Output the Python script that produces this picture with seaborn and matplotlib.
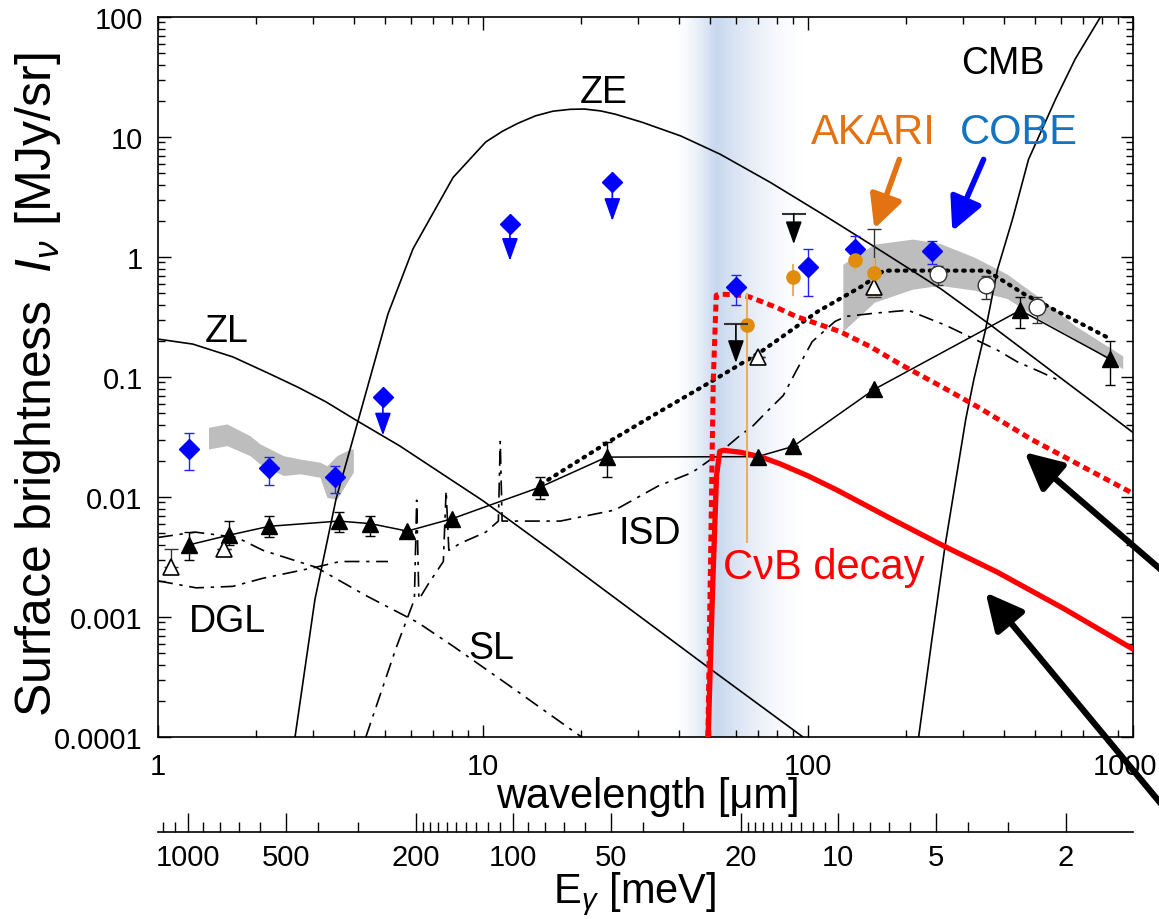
import numpy as np
import matplotlib
matplotlib.use('Agg')
import matplotlib.pyplot as plt
import matplotlib.transforms as mtransforms
import seaborn as sns
from matplotlib.ticker import FixedLocator, FuncFormatter, NullFormatter

# ---- data (wavelength in um, brightness in MJy/sr) ----
zl_wl = [1.0, 1.28, 1.7, 2.21, 2.7, 3.29, 4.06, 5.55, 10, 16.4, 50, 96.5]
zl_I = [0.207, 0.188, 0.147, 0.106, 0.082, 0.062, 0.0438, 0.0266, 0.0093, 0.0035, 0.00037, 0.0001]

ze_wl = [2.64, 3.04, 3.53, 3.90, 5.10, 6.09, 8.09, 10.2, 11.5, 12.8, 14.5, 16.4, 18.5, 20.5,
         23, 25.5, 30.8, 40.6, 53.6, 76.4, 113, 170, 257, 368, 588, 1014]
ze_I = [1e-4, 0.0014, 0.0096, 0.025, 0.335, 1.17, 4.6, 9.1, 11.2, 13.0, 15.0, 16.4, 17.0, 17.1,
        16.5, 15.5, 13.3, 10.2, 7.2, 4.2, 2.2, 1.1, 0.54, 0.266, 0.102, 0.0335]

cmb_wl = [219, 240, 264, 306, 324, 352, 383, 426, 477, 578, 664, 794]
cmb_I = [1e-4, 6.2e-4, 0.0039, 0.045, 0.096, 0.25, 0.79, 2.07, 6.5, 20.7, 44.7, 100]

dgl_wl = [1.0, 1.31, 1.7, 2.1, 3.06, 3.63, 5.1]
dgl_I = [0.002, 0.00175, 0.0018, 0.0021, 0.0026, 0.0029, 0.0029]

sl_wl = [1.0, 1.3, 1.75, 2.1, 3.06, 4.36, 6.3, 8.1, 12, 20.1]
sl_I = [0.0046, 0.0051, 0.0046, 0.0036, 0.0026, 0.00151, 0.0009, 0.00057, 0.00027, 0.0001]

isd_wl = [4.36, 5.4, 6.15, 6.25, 6.35, 6.8, 7.55, 7.7, 7.85, 8.5, 10.2, 11.15, 11.3, 11.45,
          14, 17.3, 25.5, 34.5, 44, 52.3, 61.3, 67.6, 75, 83.9, 91.6, 103, 121, 131, 160,
          203, 265, 385, 440, 520, 605]
isd_I = [1e-4, 5.5e-4, 0.0014, 0.0094, 0.0014, 0.0019, 0.0029, 0.0113, 0.0036, 0.0041, 0.0051,
         0.0063, 0.029, 0.0063, 0.0063, 0.0063, 0.0078, 0.0123, 0.016, 0.0222, 0.032, 0.039,
         0.052, 0.07, 0.11, 0.197, 0.29, 0.32, 0.34, 0.36, 0.27, 0.166, 0.134, 0.11, 0.091]

cnb_wl = [49.3, 50.9, 52.3, 53.5, 55, 62, 72, 82, 100, 123, 180, 262, 383, 614, 1000]
cnb_I = [1e-4, 0.0018, 0.015, 0.024, 0.0245, 0.0236, 0.0215, 0.0189, 0.0150, 0.0114,
         0.0066, 0.0039, 0.00236, 0.00117, 0.00054]

cnb_hi_wl = [49.2, 51.1, 52.2, 53.4, 60, 66, 71.2, 80, 91.8, 108, 125, 155, 192, 260, 338,
             485, 692, 1000]
cnb_hi_I = [1e-4, 0.091, 0.48, 0.49, 0.485, 0.465, 0.43, 0.38, 0.32, 0.275, 0.24, 0.18, 0.128,
            0.082, 0.055, 0.0304, 0.0182, 0.0107]

tri_wl = [1.25, 1.65, 2.2, 3.6, 4.5, 5.85, 8.05, 15, 24, 70, 90, 160, 450, 850]
tri_I = [0.0040, 0.0048, 0.0057, 0.0063, 0.0060, 0.0052, 0.0066, 0.0121, 0.0215,
         0.0217, 0.0264, 0.079, 0.36, 0.141]
tri_lo = [0.0030, 0.0040, 0.0046, 0.0051, 0.0047, 0.0052, 0.0066, 0.0097, 0.0146,
          0.0217, 0.0264, 0.079, 0.256, 0.085]
tri_hi = [0.0051, 0.0063, 0.0070, 0.0075, 0.0070, 0.0052, 0.0066, 0.0146, 0.0287,
          0.0217, 0.0264, 0.079, 0.46, 0.20]

otri_wl = [1.10, 1.6, 70, 160]
otri_I = [0.0026, 0.0037, 0.147, 0.56]
otri_lo = [0.0026, 0.0037, 0.147, 0.46]
otri_hi = [0.0037, 0.0037, 0.147, 1.7]

dirbe_wl = [1.25, 2.2, 3.5, 60, 100, 140, 240]
dirbe_I = [0.0251, 0.0173, 0.0146, 0.56, 0.83, 1.17, 1.12]
dirbe_lo = [0.0168, 0.0126, 0.0107, 0.40, 0.47, 0.95, 0.87]
dirbe_hi = [0.034, 0.0215, 0.018, 0.71, 1.17, 1.49, 1.36]

dirbe_ul_wl = [4.92, 12.1, 25.0]
dirbe_ul_I = [0.068, 1.88, 4.2]
dirbe_ul_tip = [0.0326, 0.93, 2.0]

akari_wl = [65, 90, 140, 160]
akari_I = [0.27, 0.68, 0.94, 0.74]
akari_lo = [0.0041, 0.47, 0.75, 0.46]
akari_hi = [0.50, 0.87, 1.17, 0.98]

ocirc_wl = [252, 352, 505]
ocirc_I = [0.72, 0.58, 0.38]
ocirc_lo = [0.58, 0.45, 0.28]
ocirc_hi = [0.84, 0.70, 0.46]

ul_wl = [60, 90.4]
ul_I = [0.275, 2.29]
ul_tip = [0.131, 1.28]

dot_wl = [15.1, 24.2, 32.8, 50, 71.1, 106.9, 148, 171, 355, 463, 854]
dot_I = [0.0128, 0.0285, 0.0465, 0.0905, 0.16, 0.35, 0.58, 0.77, 0.77, 0.49, 0.207]

band1_wl = [1.43, 1.63, 1.92, 2.06, 2.43, 2.74, 3.15, 3.31, 3.55, 3.9, 3.99]
band1_hi = [0.0381, 0.0406, 0.0324, 0.0277, 0.0221, 0.0207, 0.0195, 0.0182, 0.0221, 0.0251, 0.0251]
band1_lo = [0.0251, 0.0268, 0.0221, 0.0188, 0.0151, 0.0156, 0.0146, 0.0099, 0.0096, 0.0146, 0.0160]

band2_wl = [128, 160, 210, 254, 324, 410, 520, 660, 930]
band2_hi = [0.87, 1.28, 1.41, 1.3, 1.0, 0.72, 0.45, 0.27, 0.15]
band2_lo = [0.24, 0.42, 0.54, 0.58, 0.53, 0.45, 0.30, 0.21, 0.117]

e_major = [1000, 500, 200, 100, 50, 20, 10, 5, 2]
e_minor = [1200, 1100, 900, 800, 700, 600, 400, 300,
           190, 180, 170, 160, 150, 140, 130, 120, 110, 90, 80, 70, 60, 40, 30,
           19, 18, 17, 16, 15, 14, 13, 12, 11, 9, 8, 7, 6, 4, 3]

# ---- style ----
sns.set_style('ticks')
plt.rcParams['font.family'] = ['Liberation Sans', 'DejaVu Sans']
plt.rcParams['mathtext.fontset'] = 'custom'
plt.rcParams['mathtext.rm'] = 'Liberation Sans'
plt.rcParams['mathtext.it'] = 'Liberation Sans:italic'
plt.rcParams['mathtext.bf'] = 'Liberation Sans:bold'
for key in ['text.color', 'axes.labelcolor', 'xtick.color', 'ytick.color', 'axes.edgecolor']:
    plt.rcParams[key] = 'black'

fig = plt.figure(figsize=(11.59, 9.2), dpi=100)
ax = fig.add_axes([158 / 1159, 1 - 738 / 920, 975 / 1159, 720 / 920])
ax.set_xscale('log')
ax.set_yscale('log')
ax.set_xlim(1, 1000)
ax.set_ylim(1e-4, 100)

# blue shaded band around 50 um
edges = np.geomspace(37, 100, 120)
lpk = np.log10(52)
for a, b in zip(edges[:-1], edges[1:]):
    lm = np.log10(np.sqrt(a * b))
    if lm < lpk:
        w = ((lm - np.log10(37)) / (lpk - np.log10(37))) ** 2
    else:
        w = max(0.0, 1 - (lm - lpk) / (np.log10(100) - lpk)) ** 1.6
    col = (1 - 0.22 * w, 1 - 0.16 * w, 1 - 0.07 * w)
    ax.axvspan(a, b, color=col, lw=0, zorder=0)

ax.fill_between(band1_wl, band1_lo, band1_hi, color='#bdbdbd', lw=0, zorder=1)
ax.fill_between(band2_wl, band2_lo, band2_hi, color='#bdbdbd', lw=0, zorder=1)

# model curves
for wl, I in [(zl_wl, zl_I), (ze_wl, ze_I), (cmb_wl, cmb_I)]:
    sns.lineplot(x=wl, y=I, ax=ax, color='k', lw=1.2, estimator=None, sort=False, zorder=2)
dash_dot = (0, (9, 4, 2, 4))
for wl, I in [(dgl_wl, dgl_I), (sl_wl, sl_I), (isd_wl, isd_I)]:
    ax.plot(wl, I, color='k', lw=1.2, linestyle=dash_dot, zorder=2)

ax.plot(dot_wl, dot_I, color='k', lw=3, linestyle=(0, (0.4, 1.6)),
        dash_capstyle='round', zorder=3)
ax.plot(cnb_hi_wl, cnb_hi_I, color='#ff0000', lw=3.6, linestyle=(0, (1.4, 0.9)), zorder=3)
sns.lineplot(x=cnb_wl, y=cnb_I, ax=ax, color='#ff0000', lw=3.8, estimator=None,
             sort=False, zorder=3)

# triangles connected by thin line
sns.lineplot(x=tri_wl, y=tri_I, ax=ax, color='k', lw=1.1, estimator=None, sort=False, zorder=2)
tI = np.array(tri_I)
ax.errorbar(tri_wl, tri_I, yerr=[tI - np.array(tri_lo), np.array(tri_hi) - tI],
            fmt='none', ecolor='k', elinewidth=1, capsize=3.5, zorder=4)
ax.plot(tri_wl, tri_I, '^', color='k', ms=11.5, zorder=5)

oI = np.array(otri_I)
ax.errorbar(otri_wl, otri_I, yerr=[oI - np.array(otri_lo), np.array(otri_hi) - oI],
            fmt='none', ecolor='#333333', elinewidth=1, capsize=5, zorder=4)
ax.plot(otri_wl, otri_I, '^', mfc='white', mec='k', mew=1.2, ms=12, zorder=5)

dI = np.array(dirbe_I)
ax.errorbar(dirbe_wl, dirbe_I, yerr=[dI - np.array(dirbe_lo), np.array(dirbe_hi) - dI],
            fmt='none', ecolor='#2222ff', elinewidth=1, capsize=3.5, zorder=4)
ax.plot(dirbe_wl, dirbe_I, 'D', color='#0000ff', ms=10.5, zorder=5)
ax.plot(dirbe_ul_wl, dirbe_ul_I, 'D', color='#0000ff', ms=10.5, zorder=5)
for x, y0, y1 in zip(dirbe_ul_wl, dirbe_ul_I, dirbe_ul_tip):
    ax.annotate('', xy=(x, y1), xytext=(x, y0 * 0.85),
                arrowprops=dict(arrowstyle='-|>,head_length=0.7,head_width=0.25',
                                color='#0000ff', lw=1.2, mutation_scale=20,
                                shrinkA=0, shrinkB=0), zorder=5)

aI = np.array(akari_I)
ax.errorbar(akari_wl, akari_I, yerr=[aI - np.array(akari_lo), np.array(akari_hi) - aI],
            fmt='none', ecolor='#e8b060', elinewidth=1.5, capsize=0, zorder=4)
ax.plot(akari_wl, akari_I, 'o', color='#e08c0c', ms=9.5, zorder=5)

cI = np.array(ocirc_I)
ax.errorbar(ocirc_wl, ocirc_I, yerr=[cI - np.array(ocirc_lo), np.array(ocirc_hi) - cI],
            fmt='none', ecolor='#333333', elinewidth=1, capsize=3.5, zorder=4)
ax.plot(ocirc_wl, ocirc_I, 'o', mfc='white', mec='#333333', mew=1, ms=12, zorder=5)

ax.plot(ul_wl, ul_I, '_', color='#333333', ms=17, mew=1.5, zorder=5)
for x, y0, y1 in zip(ul_wl, ul_I, ul_tip):
    ax.annotate('', xy=(x, y1), xytext=(x, y0),
                arrowprops=dict(arrowstyle='-|>,head_length=0.7,head_width=0.25',
                                color='k', lw=1.2, mutation_scale=20,
                                shrinkA=0, shrinkB=0), zorder=5)

# pointer arrows
ax.annotate('', xy=(160, 1.72), xytext=(191, 6.5),
            arrowprops=dict(arrowstyle='-|>,head_length=0.8,head_width=0.4',
                            color='#e37212', lw=4, mutation_scale=25, shrinkA=0, shrinkB=0))
ax.annotate('', xy=(278, 1.64), xytext=(347, 6.5),
            arrowprops=dict(arrowstyle='-|>,head_length=0.8,head_width=0.4',
                            color='#0000ff', lw=4, mutation_scale=25, shrinkA=0, shrinkB=0))
ax.annotate('', xy=(464, 0.0236), xytext=(1260, 920 - 656), textcoords='figure pixels',
            arrowprops=dict(arrowstyle='-|>,head_length=0.8,head_width=0.4',
                            color='k', lw=4.5, mutation_scale=28, shrinkA=0, shrinkB=0),
            annotation_clip=False)
ax.annotate('', xy=(352, 0.0016), xytext=(1250, 920 - 912), textcoords='figure pixels',
            arrowprops=dict(arrowstyle='-|>,head_length=0.8,head_width=0.4',
                            color='k', lw=4.5, mutation_scale=28, shrinkA=0, shrinkB=0),
            annotation_clip=False)

# labels
lab = dict(ha='center', va='center', zorder=6)
ax.text(1.63, 0.24, 'ZL', fontsize=27, **lab)
ax.text(23.5, 23.7, 'ZE', fontsize=27, **lab)
ax.text(398, 41.4, 'CMB', fontsize=27, **lab)
ax.text(159, 11.0, 'AKARI', fontsize=30, color='#e37212', **lab)
ax.text(447, 11.0, 'COBE', fontsize=30, color='#1474c4', **lab)
ax.text(1.64, 9.2e-4, 'DGL', fontsize=27, **lab)
ax.text(10.6, 5.5e-4, 'SL', fontsize=27, **lab)
ax.text(32.7, 0.0050, 'ISD', fontsize=27, **lab)
ax.text(112, 0.0026, 'CνB decay', fontsize=30, color='#ff0000', **lab)

# axes formatting
fmt = FuncFormatter(lambda v, p: '%g' % v)
ax.xaxis.set_major_locator(FixedLocator([1, 10, 100, 1000]))
ax.yaxis.set_major_locator(FixedLocator([1e-4, 1e-3, 1e-2, 0.1, 1, 10, 100]))
ax.xaxis.set_major_formatter(fmt)
ax.yaxis.set_major_formatter(fmt)
ax.tick_params(which='both', direction='in', top=True, right=True, width=1, color='k')
ax.tick_params(which='major', length=9, labelsize=21, pad=11)
ax.tick_params(which='minor', length=5)
for s in ax.spines.values():
    s.set_linewidth(1.2)
    s.set_color('k')


def to_e(x):
    x = np.asarray(x, dtype=float)
    with np.errstate(divide='ignore'):
        return 1239.84 / x


sec = ax.secondary_xaxis(-0.132, functions=(to_e, to_e))
sec.xaxis.set_major_locator(FixedLocator(e_major))
sec.xaxis.set_minor_locator(FixedLocator(e_minor))
sec.xaxis.set_major_formatter(fmt)
sec.xaxis.set_minor_formatter(NullFormatter())
sec.tick_params(which='both', direction='in', width=1, color='k')
sec.tick_params(which='major', length=14, labelsize=21, pad=8)
sec.tick_params(which='minor', length=7)
sec.spines['bottom'].set_linewidth(1.2)

fig.text(648 / 1159, 1 - 808 / 920, 'wavelength [μm]', fontsize=30, ha='center', va='baseline')
fig.text(635 / 1159, 1 - 903 / 920, r'E$_\gamma$ [meV]', fontsize=30, ha='center', va='baseline')
fig.text(38 / 1159, 1 - 385 / 920, r'Surface brightness  $I_\nu$ [MJy/sr]', fontsize=36,
         rotation=90, ha='center', va='center')

# nudge the last wavelength label so it stays inside the figure, as in the reference
fig.canvas.draw()
last = ax.xaxis.get_major_ticks()[-1].label1
last.set_transform(last.get_transform() +
                   mtransforms.ScaledTranslation(-8 / 100, 0, fig.dpi_scale_trans))

fig.savefig('out.png', dpi=100)
